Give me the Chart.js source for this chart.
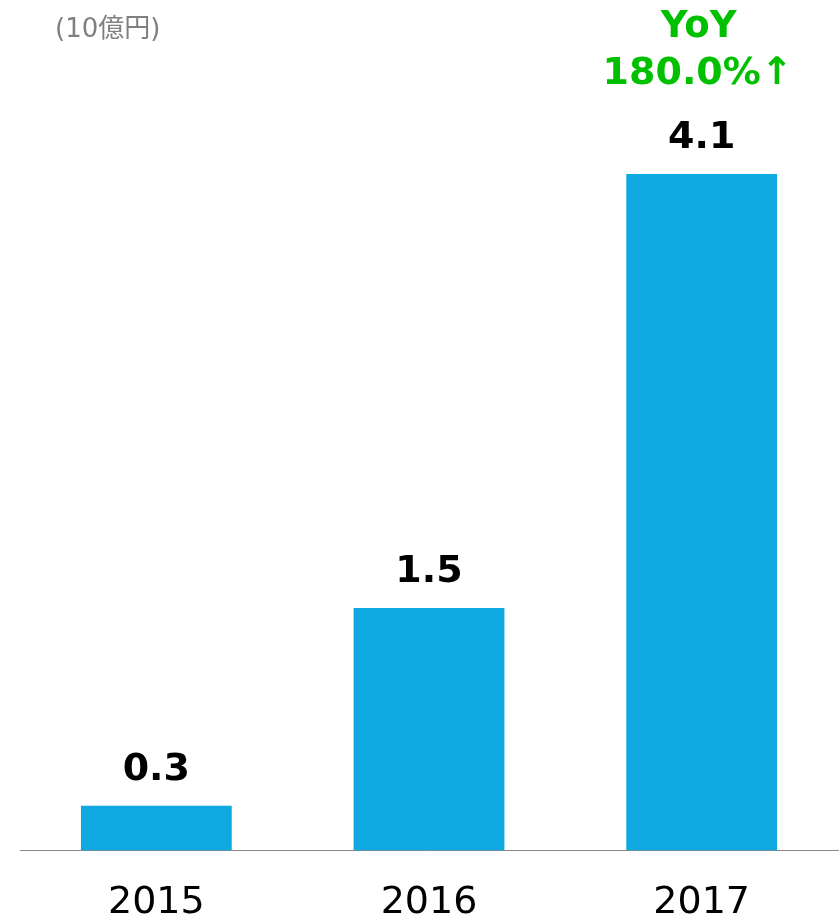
<!DOCTYPE html>
<html>
	<head>
		<meta charset="utf-8">
		<title>売上推移</title>
		<script src="https://cdn.jsdelivr.net/npm/chart.js@4.4.0/dist/chart.umd.min.js"></script>
		<style>
			html, body { margin: 0; padding: 0; background: #fff; overflow: hidden; }
			#wrap { position: relative; width: 840px; height: 923px; }
			#myChart { display: block; }
			#unit { position: absolute; left: 55px; top: 7px; line-height: 1; font: 26px "DejaVu Sans", "Noto Sans CJK JP", sans-serif; color: #808080; }
		</style>
	</head>
	<body>
		<div id="wrap">
			<canvas id="myChart" width="840" height="923"></canvas>
			<div id="unit">(10億円)</div>
		</div>
		<script>
			// dane
			const years = ['2015', '2016', '2017']
			const values = [0.27, 1.47, 4.1]
			const valueLabels = ['0.3', '1.5', '4.1']
			const yoyLines = ['YoY', '180.0%↑']

			// etykiety nad słupkami
			const labelsPlugin = {
				id: 'labels',
				afterDatasetsDraw(chart) {
					const ctx = chart.ctx
					const meta = chart.getDatasetMeta(0)
					ctx.save()
					ctx.textAlign = 'center'
					ctx.textBaseline = 'alphabetic'
					ctx.font = 'bold 38px "DejaVu Sans", sans-serif'
					ctx.fillStyle = '#000'
					meta.data.forEach((bar, i) => {
						ctx.fillText(valueLabels[i], bar.x, bar.y - 26)
					})
					// YoY nad ostatnim słupkiem
					const last = meta.data[meta.data.length - 1]
					ctx.fillStyle = '#00c000'
					ctx.font = 'bold 37px "DejaVu Sans", sans-serif'
					ctx.fillText(yoyLines[0], last.x - 3, 37)
					ctx.font = 'bold 38px "DejaVu Sans", sans-serif'
					ctx.fillText(yoyLines[1], last.x - 4, 84)
					ctx.restore()
				}
			}

			var ctx = document.getElementById('myChart').getContext('2d')
			var chart = new Chart(ctx, {
				type: 'bar',
				data: {
					labels: years,
					datasets: [{
						data: values,
						backgroundColor: '#0da9e0',
						barPercentage: 0.553,
						categoryPercentage: 1
					}]
				},
				options: {
					responsive: false,
					animation: false,
					layout: { padding: { left: 20, right: 2, top: 0, bottom: -33 } },
					plugins: {
						legend: { display: false },
						tooltip: { enabled: false }
					},
					scales: {
						x: {
							grid: { display: false, drawTicks: false },
							border: { display: true, color: '#888', width: 1 },
							ticks: {
								padding: 30,
								color: '#000',
								font: { family: '"DejaVu Sans", sans-serif', size: 38 }
							}
						},
						y: {
							display: false,
							min: 0,
							max: 5.155
						}
					}
				},
				plugins: [labelsPlugin]
			})
		</script>
	</body>
</html>
